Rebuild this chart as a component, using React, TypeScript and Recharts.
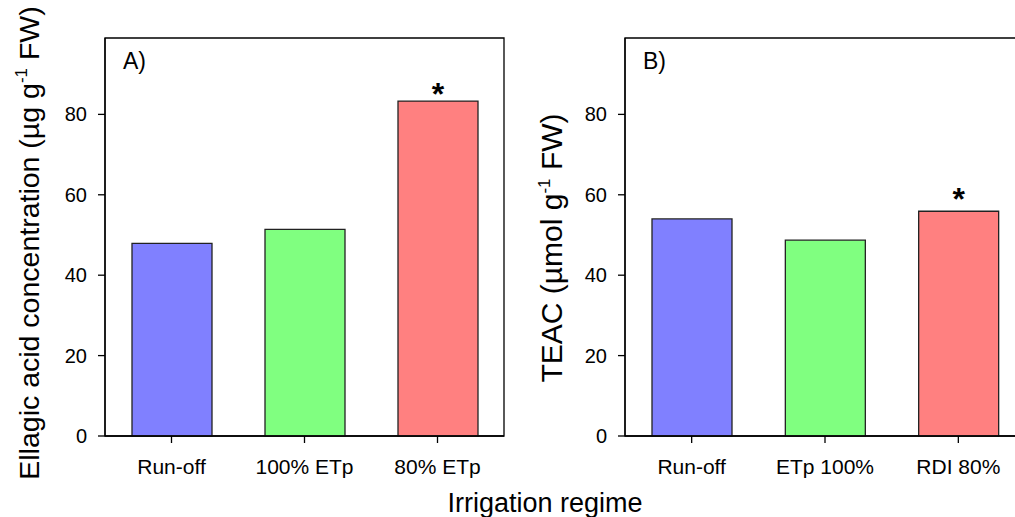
import { BarChart, Bar, XAxis, YAxis, Cell, LabelList, ReferenceArea } from 'recharts';

// categories and values
const categoriesA = ['Run-off', '100% ETp', '80% ETp'];
const ellagicAcid = [47.9, 51.4, 83.3];
const categoriesB = ['Run-off', 'ETp 100%', 'RDI 80%'];
const teac = [54.0, 48.7, 55.9];
const significance = ['', '', '*'];
const barColors = ['#8080FF', '#80FF80', '#FF8080'];
const yTicks = [0, 20, 40, 60, 80];
const yDomain = [0, 99];

const FONT = '"Liberation Sans", Arial, Helvetica, sans-serif';
const AXIS = { stroke: '#000', strokeWidth: 1.3 };

interface PanelProps {
  categories: string[];
  values: number[];
  letter: string;
  yLabel: [string, string];
  labelX: number;
  labelY: number;
  labelSize: number;
  left: number;
  width: number;
  marginRight: number;
  starDrop: number;
}

const Panel = ({ categories, values, letter, yLabel, labelX, labelY, labelSize, left, width, marginRight, starDrop }: PanelProps) => {
  const data = categories.map((name, i) => ({ name, value: values[i], sig: significance[i] }));

  const renderStar = (props: any) => {
    const { x, y, width: w, value } = props;
    if (!value) return null;
    return (
      <text x={x + w / 2} y={y + starDrop} textAnchor="middle" fontSize={32} fontWeight="bold" fontFamily={FONT} fill="#000">
        {value}
      </text>
    );
  };

  return (
    <div style={{ position: 'absolute', left, top: 0 }}>
      <BarChart
        width={width}
        height={517}
        data={data}
        margin={{ top: 38, right: marginRight, left: 45, bottom: 41 }}
        barSize={80}
      >
        {/* frame around the plot area, with the panel letter */}
        <ReferenceArea
          y1={yDomain[0]}
          y2={yDomain[1]}
          fill="none"
          stroke="#000"
          strokeWidth={1.3}
          ifOverflow="visible"
          label={{
            content: (p: any) => (
              <text x={p.viewBox.x + 18} y={p.viewBox.y + 31} fontSize={23} fontFamily={FONT} fill="#000">
                {letter}
              </text>
            ),
          }}
        />
        <XAxis
          dataKey="name"
          axisLine={AXIS}
          tickLine={AXIS}
          tickSize={7}
          tickMargin={16}
          height={40}
          tick={{ fill: '#000', fontSize: 21, fontFamily: FONT }}
          interval={0}
        />
        <YAxis
          domain={yDomain}
          ticks={yTicks}
          width={60}
          axisLine={AXIS}
          tickLine={AXIS}
          tickSize={7}
          tickMargin={11}
          tick={{ fill: '#000', fontSize: 20, fontFamily: FONT }}
          label={{
            content: () => (
              <text
                x={labelX}
                y={labelY}
                transform={`rotate(-90 ${labelX} ${labelY})`}
                textAnchor="middle"
                fontSize={labelSize}
                fontFamily={FONT}
                fill="#000"
              >
                <tspan>{yLabel[0]}</tspan>
                <tspan dy={-12} fontSize={17}>-1</tspan>
                <tspan dy={12}>{yLabel[1]}</tspan>
              </text>
            ),
          }}
        />
        <Bar dataKey="value" stroke="#222" strokeWidth={1.3} isAnimationActive={false}>
          {data.map((d, i) => (
            <Cell key={d.name} fill={barColors[i]} />
          ))}
          <LabelList dataKey="sig" content={renderStar} />
        </Bar>
      </BarChart>
    </div>
  );
};

export default function App() {
  return (
    <div style={{ position: 'absolute', left: 0, top: 0, width: 1015, height: 517, overflow: 'hidden', background: '#fff' }}>
      <Panel
        categories={categoriesA}
        values={ellagicAcid}
        letter="A)"
        yLabel={['Ellagic acid concentration (µg g', ' FW)']}
        labelX={39}
        labelY={243}
        labelSize={28.5}
        left={0}
        width={520}
        marginRight={16}
        starDrop={4}
      />
      <Panel
        categories={categoriesB}
        values={teac}
        letter="B)"
        yLabel={['TEAC (µmol g', ' FW)']}
        labelX={42}
        labelY={248}
        labelSize={30}
        left={520}
        width={560}
        marginRight={55}
        starDrop={-1}
      />
      <svg width={1015} height={517} style={{ position: 'absolute', left: 0, top: 0, pointerEvents: 'none' }}>
        <text x={545} y={512} textAnchor="middle" fontSize={27} fontFamily={FONT} fill="#000">
          Irrigation regime
        </text>
      </svg>
    </div>
  );
}
